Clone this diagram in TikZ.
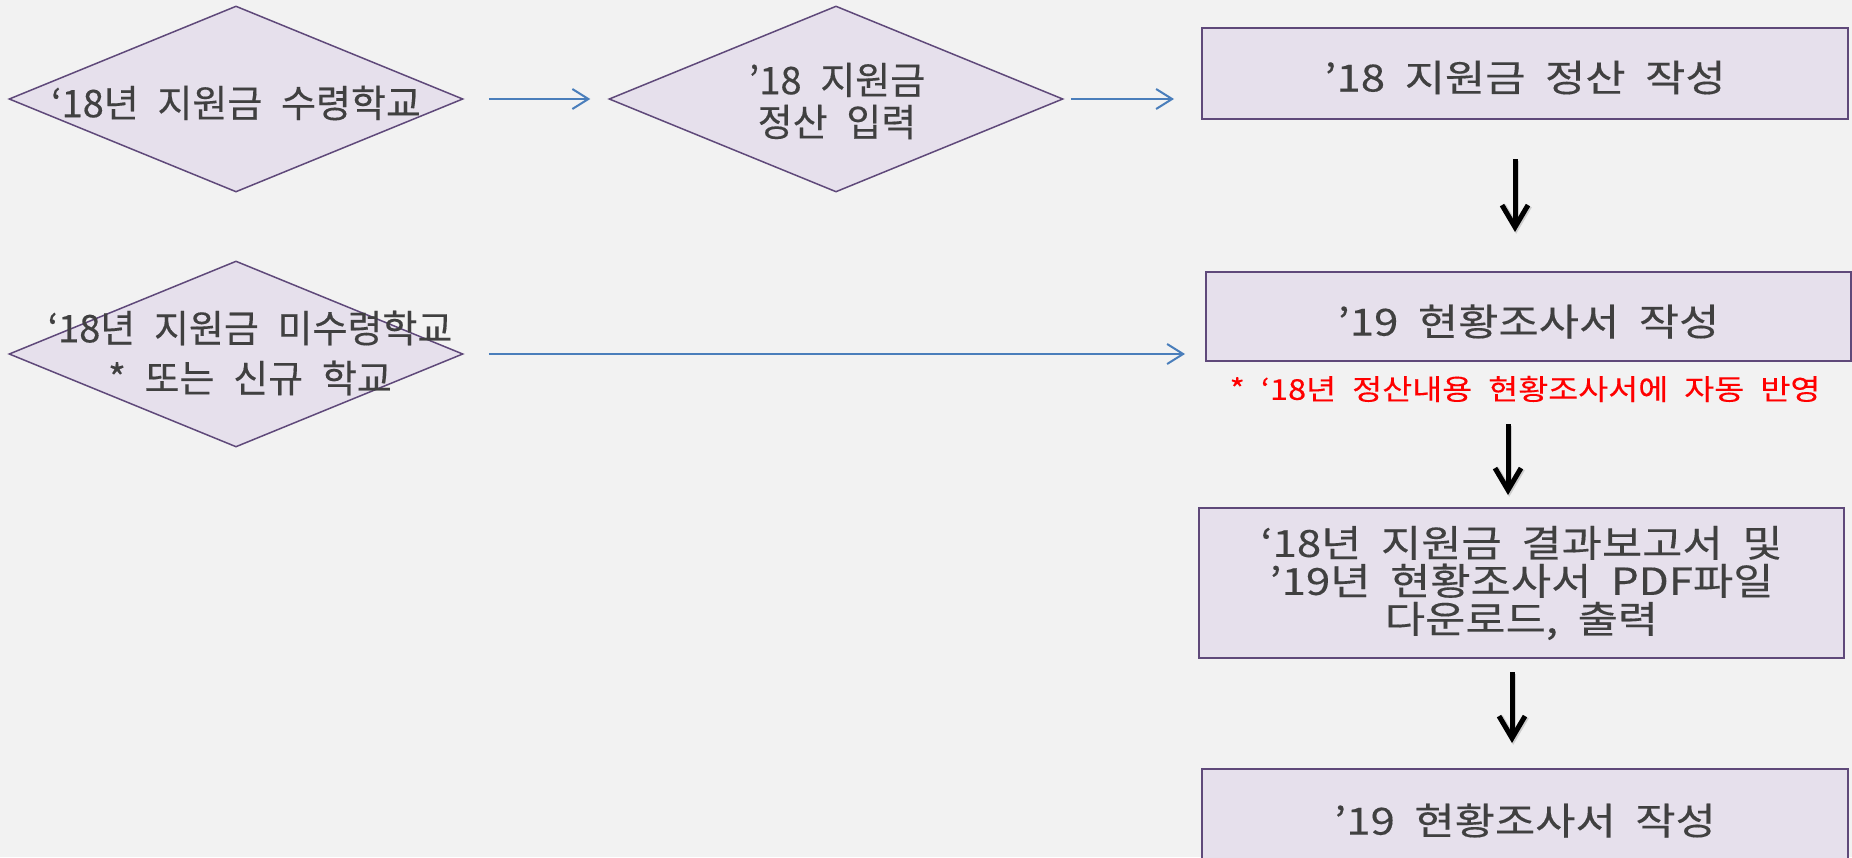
\documentclass[tikz,border=0pt]{standalone}
\usepackage{fontspec}
\setmainfont{Noto Sans CJK KR}[WordSpace=2.2, FakeBold=0.3]
\newfontfamily\krbox{Noto Sans CJK KR}[WordSpace=2.0, FakeStretch=1.17, FakeBold=0.3]
\newfontfamily\krnote{Noto Sans CJK KR}[WordSpace=2.2, FakeStretch=1.14, FakeBold=0.2]
\newcommand\lowertext[2]{\raisebox{-#1}[\height][\depth]{#2}}
\usetikzlibrary{shapes.geometric,arrows.meta}
\definecolor{bgc}{HTML}{F2F2F2}
\definecolor{boxfill}{HTML}{E6E0EC}
\definecolor{boxline}{HTML}{5F497A}
\definecolor{txt}{HTML}{404040}
\definecolor{blu}{HTML}{4A7EBB}
\definecolor{redtxt}{HTML}{FF0000}
\begin{document}
\begin{tikzpicture}[x=0.5pt,y=-0.5pt,
  dia/.style={shape=diamond, draw=boxline, line width=0.75pt, fill=boxfill,
    minimum width=227pt, minimum height=93pt, inner sep=0pt},
  dtext/.style={text=txt, align=center, inner sep=0pt},
  procbox/.style={draw=boxline, line width=1pt, fill=boxfill, minimum width=323pt,
    inner sep=0pt, text=txt, align=center, font=\krbox\fontsize{18.7}{19}\selectfont},
  bluarrow/.style={draw=blu, line width=1pt, -{Straight Barb[length=8pt,width=10pt]}},
  blkarrow/.style={draw=black, line width=2.5pt, -{Straight Barb[length=11pt,width=13pt]},
    preaction={draw=black, opacity=0.15, line width=3pt,
      transform canvas={xshift=0.6pt,yshift=-0.9pt}}}
]
\useasboundingbox (0,0) rectangle (1852,857);
\clip (0,0) rectangle (1852,857);
\fill[bgc] (0,0) rectangle (1852,857);

% diamonds
\node[dia] (d1) at (236,99) {};
\node[dia] (d2) at (836,99) {};
\node[dia] (d3) at (236,354) {};
\node[dtext, font=\fontsize{19}{21}\selectfont] (d1t) at (236,103) {‘18년 지원금 수령학교};
\node[dtext, font=\fontsize{19}{21}\selectfont] (d2t) at (837,101) {’18 지원금\\정산 입력};
\node[dtext, font=\fontsize{19}{25}\selectfont] (d3t) at (250,353) {‘18년 지원금 미수령학교\\* 또는 신규 학교};

% process boxes
\node[procbox, minimum height=45.5pt] (b1) at (1525,73.5) {\lowertext{2pt}{’18 지원금 정산 작성}};
\node[procbox, minimum height=44.5pt, minimum width=322.5pt] (b2) at (1528.5,316.5) {\lowertext{2.5pt}{’19 현황조사서 작성}};
\node[procbox, minimum height=75pt, minimum width=322.5pt] (b3) at (1521.5,583)
  {‘18년 지원금 결과보고서 및\\’19년 현황조사서 PDF파일\\다운로드, 출력};
\node[procbox, minimum height=45.5pt] (b4) at (1525,814.5) {\lowertext{3pt}{’19 현황조사서 작성}};

% note
\node[text=redtxt, inner sep=0pt, font=\krnote\fontsize{14.3}{16}\selectfont] (n1) at (1525,389)
  {* ‘18년 정산내용 현황조사서에 자동 반영};

% blue connectors
\draw[bluarrow, shorten <=12.5pt, shorten >=9pt] (d1.east) -- (d2.west);
\draw[bluarrow, shorten <=3.5pt, shorten >=13.5pt] (d2.east) -- (d2.east -| b1.west);
\draw[bluarrow, shorten <=12.5pt, shorten >=10pt] (d3.east) -- (d3.east -| b2.west);

% black connectors
\coordinate (k1) at (1515,0);
\coordinate (k2) at (1508,0);
\coordinate (k3) at (1512,0);
\draw[blkarrow, shorten <=19.5pt, shorten >=19.5pt] (b1.south -| k1) -- (b2.north -| k1);
\draw[blkarrow, shorten <=31pt, shorten >=6pt] (b2.south -| k2) -- (b3.north -| k2);
\draw[blkarrow, shorten <=6.5pt, shorten >=12.5pt] (b3.south -| k3) -- (b4.north -| k3);
\end{tikzpicture}
\end{document}
